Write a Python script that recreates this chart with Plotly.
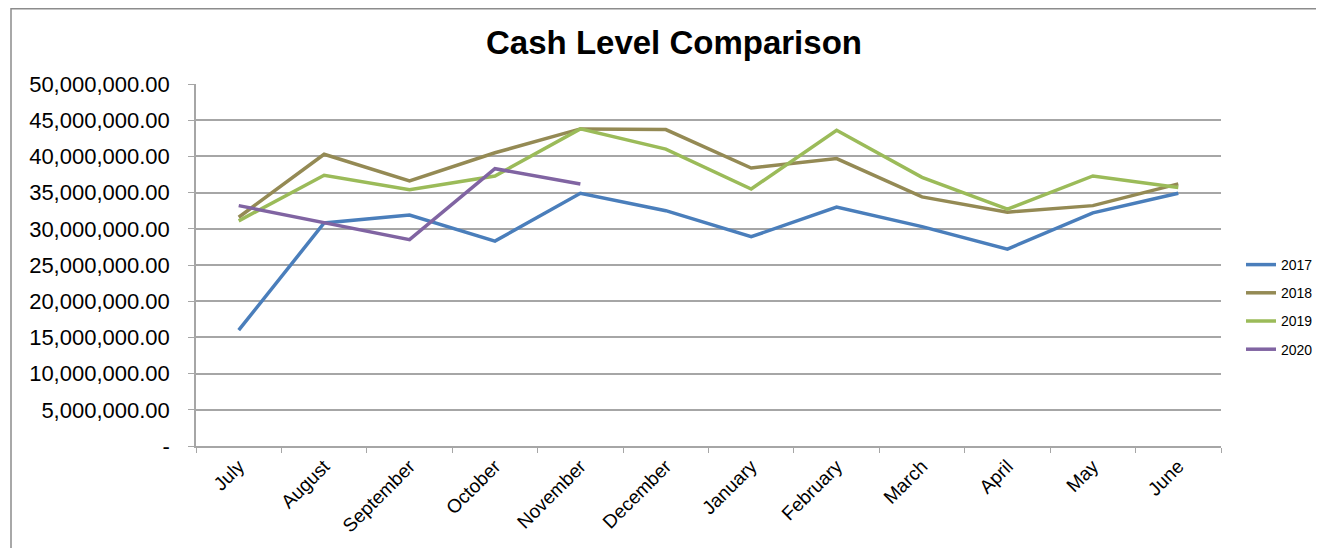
import plotly.graph_objects as go

months = ["July", "August", "September", "October", "November", "December",
          "January", "February", "March", "April", "May", "June"]

cash_2017 = [16.0e6, 30.8e6, 31.9e6, 28.3e6, 34.9e6, 32.5e6, 28.9e6, 33.0e6, 30.3e6, 27.2e6, 32.2e6, 34.9e6]
cash_2018 = [31.6e6, 40.3e6, 36.6e6, 40.5e6, 43.8e6, 43.7e6, 38.4e6, 39.7e6, 34.4e6, 32.3e6, 33.2e6, 36.2e6]
cash_2019 = [31.1e6, 37.4e6, 35.4e6, 37.3e6, 43.8e6, 41.0e6, 35.5e6, 43.6e6, 37.1e6, 32.7e6, 37.3e6, 35.7e6]
cash_2020 = [33.2e6, 30.8e6, 28.5e6, 38.3e6, 36.2e6]

series = [
    ("2017", cash_2017, "#4A7EBB"),
    ("2018", cash_2018, "#948A54"),
    ("2019", cash_2019, "#9BBB59"),
    ("2020", cash_2020, "#8064A2"),
]

ytick_vals = [i * 5_000_000 for i in range(11)]
ytick_text = ["-" if v == 0 else f"{v:,.2f}" for v in ytick_vals]

# page has an 8px body margin: figure coords = page coords - 8
W, H = 1308, 540
L, T = 188, 76
R = W - 1213
B = H - 438
PW = 1213 - L
PH = 438 - T

fig = go.Figure()
for name, vals, color in series:
    fig.add_trace(go.Scatter(
        x=months[:len(vals)], y=vals, name=name, mode="lines",
        legendgroup=name,
        line=dict(color=color, width=3.5),
    ))

fig.update_layout(
    width=W, height=H, autosize=False,
    margin=dict(l=L, r=R, t=T, b=B, autoexpand=False),
    paper_bgcolor="white", plot_bgcolor="white",
    font=dict(family="Liberation Sans, Arial, sans-serif", color="#000000"),
    title=dict(text="<b>Cash Level Comparison</b>", x=(674 - 8) / W, xanchor="center",
               y=1 - 34 / H, yanchor="middle", yref="container",
               font=dict(size=33, color="#000000")),
    showlegend=True,
    legend=dict(x=(1233 - L) / PW, xanchor="left", y=(438 - 299) / PH, yanchor="middle",
                font=dict(size=14), tracegroupgap=7, itemwidth=30,
                bgcolor="rgba(0,0,0,0)"),
    xaxis=dict(
        type="category", categoryorder="array", categoryarray=months,
        range=[-0.5, 11.5], tickson="boundaries", ticks="outside", ticklen=5,
        tickcolor="#A6A6A6", showline=True, linecolor="#A6A6A6", linewidth=1.5,
        showgrid=False, tickangle=-45, tickfont=dict(size=19), automargin=False,
    ),
    yaxis=dict(
        range=[0, 50_000_000], tickvals=ytick_vals, ticktext=ytick_text,
        ticks="outside", ticklen=6, tickcolor="#A6A6A6",
        showline=True, linecolor="#A6A6A6", linewidth=1.5,
        showgrid=True, gridcolor="#A6A6A6", gridwidth=1.5,
        zeroline=False, tickfont=dict(size=22), ticklabelstandoff=14, automargin=False,
    ),
    shapes=[dict(type="rect", xref="paper", yref="paper",
                 x0=(3 - L) / PW, x1=1.3, y0=-0.5, y1=(438 - 0.75) / PH,
                 line=dict(color="#8C8C8C", width=1.5), fillcolor="rgba(0,0,0,0)",
                 layer="below")],
)

fig.write_html("out.html")
